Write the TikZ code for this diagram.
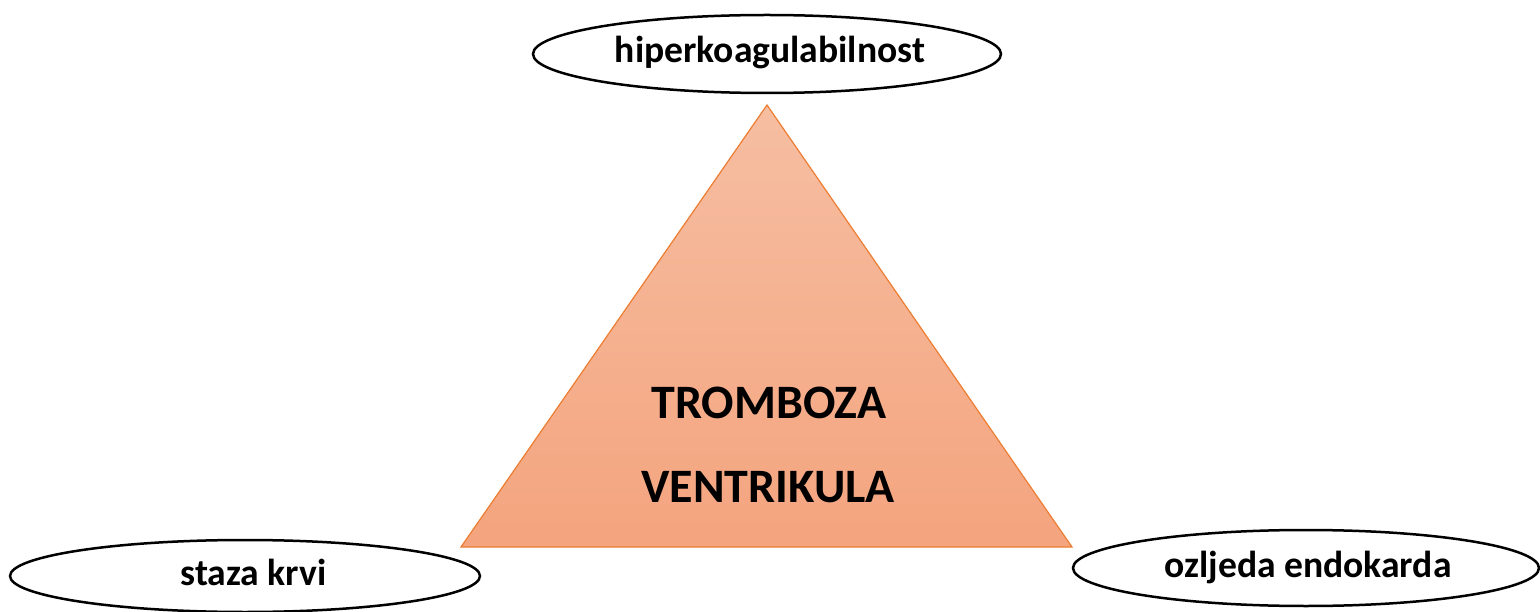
\documentclass[tikz,border=0pt]{standalone}
\usepackage{fontspec}
\setmainfont{Carlito}
\usetikzlibrary{shapes.geometric}
\definecolor{triTop}{RGB}{246,190,162}
\definecolor{triBot}{RGB}{244,164,126}
\definecolor{triEdge}{RGB}{237,125,49}
\begin{document}
\begin{tikzpicture}[x=1pt,y=-1pt,
  oval/.style={draw=black, line width=2.5pt, fill=white, ellipse, inner sep=0pt,
    font=\bfseries\fontsize{37.6}{44}\selectfont, text height=26pt, text depth=8pt},
  bigtext/.style={font=\bfseries\fontsize{48}{58}\selectfont, anchor=base}
]
\useasboundingbox (0,0) rectangle (1540,612);
\shade[top color=triTop, bottom color=triBot, draw=triEdge, line width=1.2pt, line join=miter]
  (767,105) -- (1072,547) -- (461,547) -- cycle;
\node[bigtext] (t1) at (769,418) {TROMBOZA};
\node[bigtext] (t2) at (768,502) {VENTRIKULA};
\node[oval, minimum width=468pt, minimum height=78pt] (top) at (767,54) {\hspace*{6pt}hiperkoagulabilnost};
\node[oval, minimum width=470pt, minimum height=72pt] (left) at (245,576) {\hspace*{17pt}staza krvi};
\node[oval, minimum width=466pt, minimum height=76pt] (right) at (1306,568) {\hspace*{4pt}ozljeda endokarda};
\end{tikzpicture}
\end{document}
